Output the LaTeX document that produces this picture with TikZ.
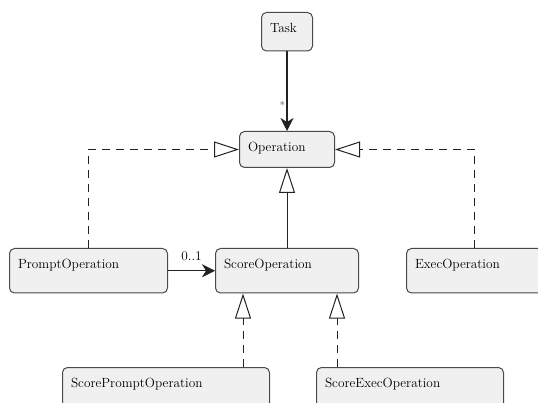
\documentclass[tikz,border=0pt]{standalone}
\usepackage{fontspec}
\usetikzlibrary{arrows.meta}
\definecolor{boxfill}{HTML}{F0F0F0}
\definecolor{boxline}{HTML}{4A4A4A}
\definecolor{wire}{HTML}{222222}
\begin{document}
\begin{tikzpicture}[x=1pt,y=-1pt,
  umlbox/.style={draw=boxline, fill=boxfill, line width=1pt, rounded corners=5pt,
    anchor=north west, align=left, inner xsep=8.5pt, inner ysep=0pt,
    text height=20pt, font=\fontsize{13.3}{16}\selectfont},
  assoc/.style={draw=wire, line width=1.1pt, -{Stealth[length=13pt,width=13pt,inset=4pt]}},
  inherit/.style={draw=wire, line width=1pt, -{Triangle[open,length=25pt,width=16pt,line width=1pt]}},
  realize/.style={inherit, dash pattern=on 8pt off 6pt},
  mult/.style={font=\fontsize{13.3}{16}\selectfont, inner sep=2pt}]
\useasboundingbox (0,0) rectangle (538,403);
\clip (0,0) rectangle (538,403);

% classes
\node[umlbox, text width=34pt, text depth=18.5pt] (Task) at (261,12) {Task};
\node[umlbox, text width=78pt, text depth=16pt] (Operation) at (239,131) {Operation};
\node[umlbox, text width=141pt, text depth=24.5pt] (Prompt) at (9,248) {PromptOperation};
\node[umlbox, text width=126pt, text depth=24.5pt] (Score) at (215,248) {ScoreOperation};
\node[umlbox, text width=119pt, text depth=24.5pt] (Exec) at (406,248) {ExecOperation};
\node[umlbox, text width=190pt, text depth=24.5pt] (ScorePrompt) at (62,367) {ScorePromptOperation};
\node[umlbox, text width=170pt, text depth=24.5pt] (ScoreExec) at (316,367) {ScoreExecOperation};

% associations
\draw[assoc] (Task.south) -- node[pos=0.68, left, inner sep=1.5pt, text=boxline,
  font=\fontsize{11}{12}\selectfont] {*} (Operation.north);
\draw[assoc] (Prompt.east) -- node[mult, above, pos=0.5, yshift=7pt] {0..1} (Score.west);

% generalisation and realisation
\draw[inherit] (Score.north) -- (Operation.south);
\draw[realize] (Prompt.north) |- (Operation.west);
\draw[realize] (Exec.north) |- (Operation.east);
\draw[realize] ([xshift=-27pt]ScorePrompt.north east) -- ([xshift=-27pt]ScorePrompt.north east |- Score.south);
\draw[realize] ([xshift=21pt]ScoreExec.north west) -- ([xshift=21pt]ScoreExec.north west |- Score.south);
\end{tikzpicture}
\end{document}
